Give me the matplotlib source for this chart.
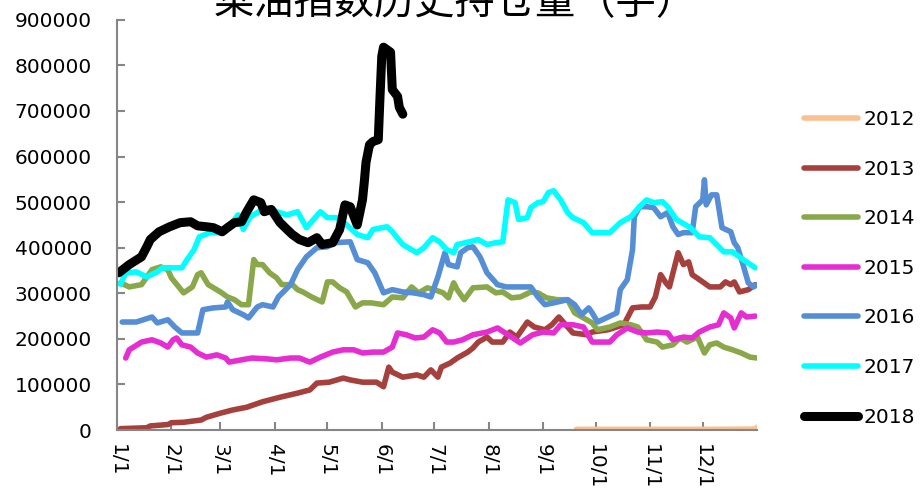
import matplotlib
matplotlib.use('Agg')
import matplotlib.pyplot as plt

# day of year (0 = Jan 1) and open interest
days_2012 = [262, 300, 340, 364, 365]
oi_2012 = [1500, 1500, 1500, 2000, 6000]

days_2013 = [2, 17, 19, 29, 31, 38, 48, 51, 59, 66, 74, 83, 93, 103, 110, 114, 121, 129,
             133, 140, 148, 152, 155, 157, 163, 171, 175, 179, 183, 185, 190, 194, 200,
             203, 206, 211, 214, 220, 224, 228, 234, 238, 244, 248, 252, 257, 260, 268,
             271, 280, 289, 294, 299, 304, 307, 310, 313, 315, 320, 323, 326, 328, 334,
             338, 344, 347, 350, 352, 355, 360, 364]
oi_2013 = [3000, 5000, 9000, 12000, 16000, 17000, 22000, 28000, 37000, 44000, 50000,
           62000, 72000, 81000, 88000, 103000, 105000, 114000, 110000, 105000, 105000,
           95000, 138000, 127000, 116000, 121000, 116000, 132000, 116000, 138000, 147000,
           158000, 171000, 180000, 193000, 204000, 193000, 193000, 215000, 204000, 237000,
           226000, 220000, 231000, 248000, 226000, 213000, 209000, 215000, 220000, 231000,
           268000, 270000, 270000, 292000, 341000, 323000, 314000, 389000, 363000, 369000,
           341000, 325000, 314000, 314000, 325000, 319000, 325000, 303000, 308000, 319000]

days_2014 = [2, 7, 14, 20, 25, 29, 31, 38, 43, 46, 48, 52, 59, 63, 67, 71, 75, 78, 80,
             83, 87, 91, 94, 100, 103, 106, 111, 117, 120, 123, 127, 131, 136, 140, 145,
             152, 157, 163, 168, 172, 177, 181, 186, 189, 192, 194, 198, 203, 211, 216,
             220, 225, 230, 236, 240, 245, 251, 257, 261, 266, 271, 274, 281, 287, 293,
             297, 302, 308, 311, 317, 321, 325, 331, 335, 338, 342, 346, 351, 356, 361, 365]
oi_2014 = [323000, 314000, 319000, 352000, 358000, 352000, 334000, 301000, 314000,
           341000, 345000, 319000, 303000, 292000, 286000, 275000, 275000, 374000, 363000,
           363000, 345000, 334000, 319000, 319000, 308000, 303000, 292000, 281000, 325000,
           325000, 312000, 303000, 270000, 279000, 279000, 275000, 292000, 290000, 314000,
           301000, 312000, 308000, 301000, 290000, 323000, 308000, 286000, 312000, 314000,
           301000, 303000, 290000, 292000, 303000, 301000, 290000, 286000, 286000, 257000,
           246000, 235000, 220000, 226000, 235000, 231000, 226000, 198000, 193000, 182000,
           187000, 202000, 193000, 204000, 169000, 187000, 191000, 182000, 176000, 169000,
           160000, 158000]

days_2015 = [5, 7, 14, 20, 25, 29, 32, 34, 37, 42, 46, 51, 57, 62, 64, 71, 77, 86, 91,
             99, 104, 110, 116, 123, 129, 135, 140, 146, 152, 157, 160, 165, 170, 175, 180,
             184, 188, 192, 197, 203, 211, 217, 223, 230, 237, 243, 249, 253, 260, 266,
             271, 281, 285, 291, 297, 302, 308, 314, 317, 323, 328, 332, 338, 343, 346,
             350, 352, 356, 359, 364]
oi_2015 = [158000, 176000, 193000, 198000, 191000, 182000, 198000, 202000, 187000,
           182000, 169000, 160000, 165000, 158000, 149000, 154000, 158000, 156000, 154000,
           158000, 158000, 149000, 160000, 171000, 176000, 176000, 169000, 171000, 171000,
           182000, 213000, 209000, 202000, 204000, 220000, 213000, 193000, 193000, 198000,
           209000, 215000, 224000, 209000, 191000, 209000, 215000, 213000, 231000, 231000,
           226000, 193000, 193000, 209000, 224000, 215000, 213000, 215000, 213000, 198000,
           204000, 202000, 215000, 226000, 231000, 257000, 246000, 224000, 257000, 248000,
           250000]

days_2016 = [3, 11, 20, 23, 29, 33, 37, 46, 49, 55, 62, 63, 66, 72, 75, 80, 83, 89, 92,
             99, 103, 108, 114, 120, 124, 133, 137, 143, 147, 152, 157, 163, 169, 175, 179,
             183, 187, 189, 194, 196, 200, 203, 207, 211, 217, 222, 230, 236, 240, 244,
             249, 257, 261, 265, 269, 271, 274, 279, 285, 287, 291, 294, 295, 298, 302,
             306, 310, 314, 317, 320, 323, 328, 330, 334, 335, 336, 339, 342, 345, 350,
             352, 354, 357, 360, 363, 365]
oi_2016 = [237000, 237000, 248000, 235000, 242000, 226000, 213000, 213000, 264000,
           268000, 270000, 281000, 264000, 253000, 246000, 270000, 275000, 270000, 292000,
           319000, 352000, 380000, 400000, 402000, 411000, 413000, 374000, 367000, 345000,
           301000, 308000, 303000, 301000, 297000, 292000, 336000, 389000, 363000, 358000,
           389000, 400000, 402000, 380000, 345000, 319000, 314000, 314000, 314000, 292000,
           275000, 279000, 286000, 275000, 253000, 268000, 257000, 237000, 246000, 257000,
           308000, 330000, 396000, 468000, 490000, 490000, 488000, 468000, 477000, 446000,
           429000, 433000, 433000, 490000, 505000, 549000, 494000, 516000, 516000, 444000,
           435000, 411000, 400000, 363000, 323000, 314000, 319000]

days_2017 = [2, 5, 11, 17, 23, 26, 32, 37, 40, 44, 47, 53, 59, 64, 69, 72, 76, 80, 86,
             91, 97, 103, 108, 116, 120, 125, 129, 137, 143, 146, 154, 157, 163, 171, 175,
             180, 184, 188, 192, 194, 201, 206, 211, 216, 220, 223, 227, 229, 234, 236,
             240, 243, 246, 249, 253, 257, 260, 266, 271, 281, 287, 293, 298, 302, 306,
             311, 314, 319, 327, 332, 338, 346, 351, 357, 364]
oi_2017 = [320000, 345000, 347000, 336000, 347000, 356000, 356000, 356000, 374000,
           396000, 424000, 433000, 433000, 446000, 472000, 440000, 468000, 477000, 488000,
           479000, 472000, 479000, 444000, 479000, 466000, 466000, 457000, 429000, 422000,
           440000, 446000, 435000, 407000, 389000, 400000, 422000, 413000, 396000, 389000,
           407000, 413000, 418000, 407000, 411000, 413000, 505000, 499000, 462000, 466000,
           488000, 499000, 501000, 521000, 525000, 505000, 477000, 466000, 455000, 433000,
           433000, 455000, 468000, 490000, 505000, 499000, 501000, 490000, 462000, 444000,
           424000, 422000, 391000, 391000, 374000, 356000]

days_2018 = [1, 7, 14, 17, 19, 24, 30, 36, 42, 46, 51, 55, 60, 63, 67, 71, 74, 78, 82,
             84, 88, 93, 97, 100, 104, 109, 114, 117, 123, 127, 130, 133, 137, 140, 141,
             142, 144, 146, 149, 150, 151, 152, 156, 157, 160, 161, 163]
oi_2018 = [345000, 363000, 380000, 402000, 418000, 435000, 446000, 455000, 457000,
           448000, 446000, 444000, 435000, 444000, 455000, 457000, 479000, 505000, 499000,
           479000, 484000, 455000, 440000, 429000, 418000, 411000, 422000, 407000, 411000,
           440000, 494000, 490000, 450000, 505000, 543000, 587000, 626000, 633000, 637000,
           732000, 820000, 840000, 829000, 747000, 732000, 708000, 693000]

years = ['2012', '2013', '2014', '2015', '2016', '2017', '2018']
colors = ['#FAC090', '#A5403C', '#8AA84A', '#E62DD2', '#558ED5', '#00FFFF', '#000000']
widths = [4, 4, 4, 4, 4, 4, 6.5]

month_starts = [0, 31, 59, 90, 120, 151, 181, 212, 243, 273, 304, 334]
month_labels = ['1/1', '2/1', '3/1', '4/1', '5/1', '6/1', '7/1', '8/1', '9/1',
                '10/1', '11/1', '12/1']

series = [(days_2012, oi_2012), (days_2013, oi_2013), (days_2014, oi_2014),
          (days_2015, oi_2015), (days_2016, oi_2016), (days_2017, oi_2017),
          (days_2018, oi_2018)]

plt.rcParams['font.family'] = ['DejaVu Sans']
fig = plt.figure(figsize=(9.21, 4.96), dpi=100)
ax = fig.add_axes([0.127, 0.133, 0.695, 0.827])

for (d, v), yr, c, w in zip(series, years, colors, widths):
    ax.plot(d, v, color=c, lw=w, label=yr, solid_capstyle='round',
            solid_joinstyle='round')

ax.set_xlim(0, 365)
ax.set_ylim(0, 900000)
ax.set_yticks(range(0, 900001, 100000))
ax.set_yticklabels([str(v) for v in range(0, 900001, 100000)])
ax.set_xticks(month_starts)
ax.set_xticklabels(month_labels, rotation=-90)

for s in ['top', 'right']:
    ax.spines[s].set_visible(False)
for s in ['left', 'bottom']:
    ax.spines[s].set_color('#868686')
    ax.spines[s].set_linewidth(1.5)
ax.tick_params(axis='both', direction='in', length=6, width=1.5, color='#868686',
               labelsize=14.5)
ax.tick_params(axis='y', pad=18)
ax.tick_params(axis='x', pad=10)

fig.legend(loc='center left', bbox_to_anchor=(0.8725, 0.459), frameon=False,
           fontsize=14.5, handlelength=2.7, handletextpad=0.3, labelspacing=1.52,
           borderpad=0, borderaxespad=0)

fig.text(0.494, 0.972, '菜油指数历史持仓量（手）', ha='center', va='baseline',
         fontsize=29, family=['Noto Sans CJK SC', 'DejaVu Sans'])

fig.savefig('out.png', dpi=100)
